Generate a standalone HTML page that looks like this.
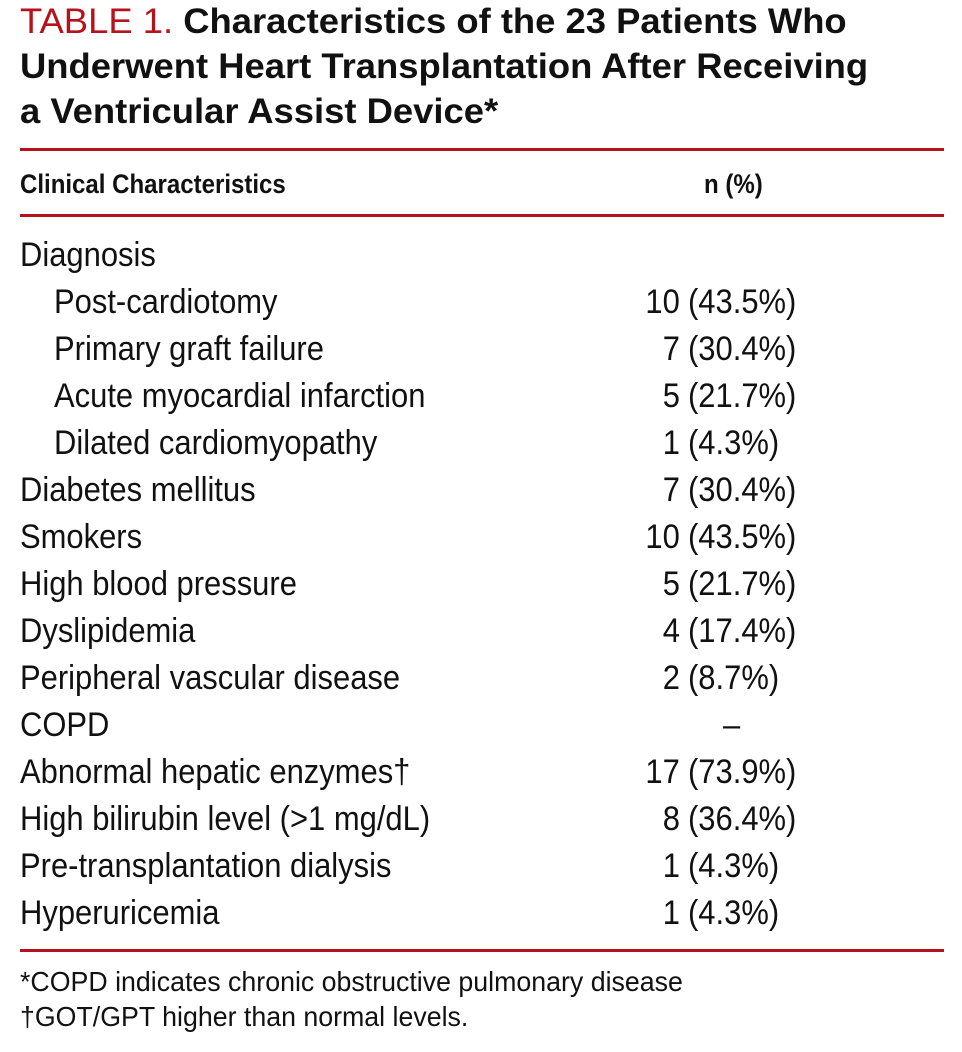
<!DOCTYPE html>
<html><head><meta charset="utf-8"><style>
body{margin:0;width:962px;height:1052px;background:#fff;position:relative;overflow:hidden;font-family:"Liberation Sans",sans-serif;color:#111}
.t{position:absolute;left:20px;font-size:35px;font-weight:bold;line-height:45px;top:-1px;white-space:nowrap;transform-origin:0 0;transform:scaleX(1.04)}
.t span{color:#b5121b;font-weight:normal}
.rule{position:absolute;left:20px;width:924px;height:3px;background:#b5121b}
.r{position:absolute;font-size:34px;line-height:34px;white-space:nowrap;transform-origin:0 50%;transform:scaleX(0.91)}
.h{position:absolute;font-size:27px;font-weight:bold;white-space:nowrap;transform-origin:0 50%;transform:scaleX(0.89);line-height:30px}
.n{position:absolute;font-size:34px;line-height:34px;white-space:nowrap;transform-origin:100% 50%;transform:scaleX(0.91);text-align:right;right:282px}
.p{position:absolute;font-size:34px;line-height:34px;white-space:nowrap;transform-origin:0 50%;transform:scaleX(0.91);left:688px}
.f{position:absolute;left:20px;font-size:28px;line-height:30px;white-space:nowrap;transform-origin:0 50%;transform:scaleX(0.955)}
</style></head><body>
<div class="t"><span>TABLE 1.</span> Characteristics of the 23 Patients Who<br>Underwent Heart Transplantation After Receiving<br>a Ventricular Assist Device*</div>
<div class="rule" style="top:148px"></div>
<div class="h" style="left:20px;top:169px">Clinical Characteristics</div>
<div class="h" style="left:704px;top:169px">n (%)</div>
<div class="rule" style="top:214px"></div>
<div class="r" style="left:20px;top:238px">Diagnosis</div>
<div class="r" style="left:54px;top:285px">Post-cardiotomy</div><div class="n" style="top:285px">10</div><div class="p" style="top:285px">(43.5%)</div>
<div class="r" style="left:54px;top:332px">Primary graft failure</div><div class="n" style="top:332px">7</div><div class="p" style="top:332px">(30.4%)</div>
<div class="r" style="left:54px;top:379px">Acute myocardial infarction</div><div class="n" style="top:379px">5</div><div class="p" style="top:379px">(21.7%)</div>
<div class="r" style="left:54px;top:426px">Dilated cardiomyopathy</div><div class="n" style="top:426px">1</div><div class="p" style="top:426px">(4.3%)</div>
<div class="r" style="left:20px;top:473px">Diabetes mellitus</div><div class="n" style="top:473px">7</div><div class="p" style="top:473px">(30.4%)</div>
<div class="r" style="left:20px;top:520px">Smokers</div><div class="n" style="top:520px">10</div><div class="p" style="top:520px">(43.5%)</div>
<div class="r" style="left:20px;top:567px">High blood pressure</div><div class="n" style="top:567px">5</div><div class="p" style="top:567px">(21.7%)</div>
<div class="r" style="left:20px;top:614px">Dyslipidemia</div><div class="n" style="top:614px">4</div><div class="p" style="top:614px">(17.4%)</div>
<div class="r" style="left:20px;top:661px">Peripheral vascular disease</div><div class="n" style="top:661px">2</div><div class="p" style="top:661px">(8.7%)</div>
<div class="r" style="left:20px;top:708px">COPD</div><div class="r" style="left:723px;top:708px">–</div>
<div class="r" style="left:20px;top:755px">Abnormal hepatic enzymes†</div><div class="n" style="top:755px">17</div><div class="p" style="top:755px">(73.9%)</div>
<div class="r" style="left:20px;top:802px">High bilirubin level (&gt;1 mg/dL)</div><div class="n" style="top:802px">8</div><div class="p" style="top:802px">(36.4%)</div>
<div class="r" style="left:20px;top:849px">Pre-transplantation dialysis</div><div class="n" style="top:849px">1</div><div class="p" style="top:849px">(4.3%)</div>
<div class="r" style="left:20px;top:896px">Hyperuricemia</div><div class="n" style="top:896px">1</div><div class="p" style="top:896px">(4.3%)</div>
<div class="rule" style="top:949px"></div>
<div class="f" style="top:967px">*COPD indicates chronic obstructive pulmonary disease</div>
<div class="f" style="top:1002px">†GOT/GPT higher than normal levels.</div>
</body></html>
